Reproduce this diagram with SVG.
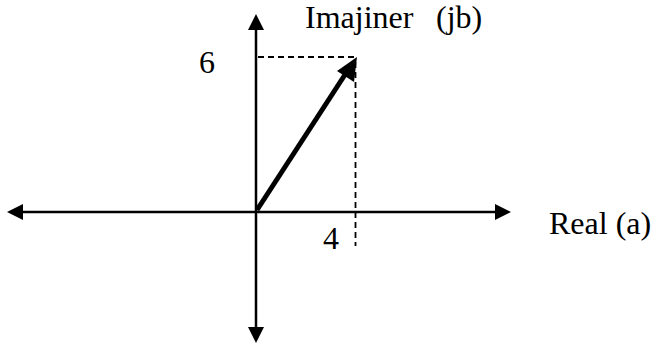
<svg xmlns="http://www.w3.org/2000/svg" width="664" height="352" viewBox="0 0 664 352">
<style>
.ax{stroke:#000;stroke-width:2.5;fill:none}
.ds{stroke:#000;stroke-width:1.8;stroke-dasharray:6,4;fill:none}
.vec{stroke:#000;stroke-width:5;fill:none}
.hd{fill:#000}
text{font-family:"Liberation Serif","Times New Roman",serif;font-size:32px;fill:#000}
</style>
<rect width="664" height="352" fill="#fff"/>
<g id="guides">
<path class="ds" d="M258 57 H356"/>
<path class="ds" d="M355.5 62 V246"/>
</g>
<g id="connectors">
<path class="ax" d="M22 212 H496"/>
<polygon class="hd" points="7,212 23,204 23,220"/>
<polygon class="hd" points="511,212 495,204 495,220"/>
<path class="ax" d="M256 28 V328"/>
<polygon class="hd" points="256,14 248,30 264,30"/>
<polygon class="hd" points="256,343 248,327 264,327"/>
<path class="vec" d="M257 210 L348 70"/>
<polygon class="hd" points="357,57 354,82 337,71"/>
</g>
<g id="label-imag"><text x="305" y="28">Imajiner<tspan x="436">(jb)</tspan></text></g>
<g id="label-real"><text x="549" y="234">Real (a)</text></g>
<g id="label-6"><text x="199" y="73">6</text></g>
<g id="label-4"><text x="323" y="249">4</text></g>
</svg>
